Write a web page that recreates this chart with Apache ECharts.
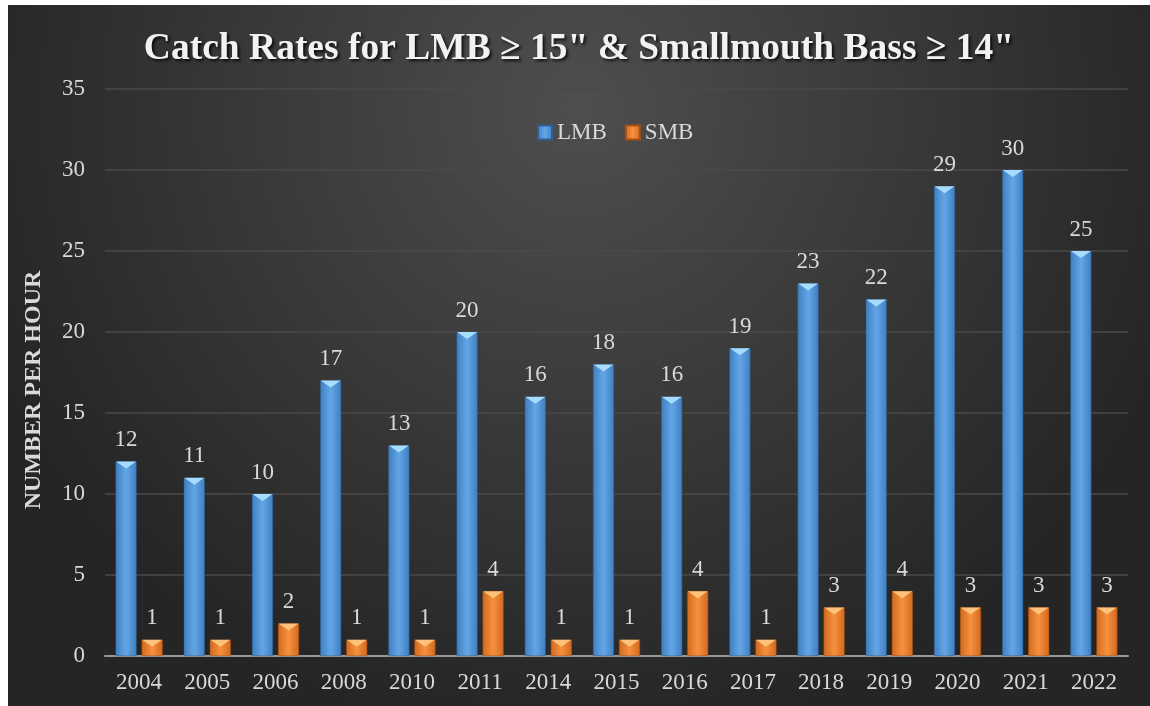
<!DOCTYPE html>
<html>
<head>
<meta charset="utf-8">
<script src="https://cdn.jsdelivr.net/npm/echarts@6/dist/echarts.min.js"></script>
<style>
  html, body { margin: 0; padding: 0; background: #fff; }
  #main { position: absolute; left: 8px; top: 5px; width: 1142px; height: 701px; }
</style>
</head>
<body>
<div id="main"></div>
<script>
var years = ['2004','2005','2006','2008','2010','2011','2014','2015','2016','2017','2018','2019','2020','2021','2022'];
var lmb = [12, 11, 10, 17, 13, 20, 16, 18, 16, 19, 23, 22, 29, 30, 25];
var smb = [1, 1, 2, 1, 1, 4, 1, 1, 4, 1, 3, 4, 3, 3, 3];
var yTicks = [0, 5, 10, 15, 20, 25, 30, 35];

var serif = '"Liberation Serif", "DejaVu Serif", serif';
var txtColor = '#d9d9d9';
var fs = 23;

function barFill(edge, mid) {
  return new echarts.graphic.LinearGradient(0, 0, 1, 0, [
    {offset: 0, color: edge},
    {offset: 0.5, color: mid},
    {offset: 1, color: edge}
  ]);
}
var blueFill = barFill('#3f7fc1', '#63a6e6');
var orangeFill = barFill('#d2691f', '#f6913d');

// bevel cap on the bar tops
var capPath = 'path://M0,0 L20,0 L10,7 Z';

var myChart = echarts.init(document.getElementById('main'));
var option = {
  backgroundColor: new echarts.graphic.RadialGradient(0.5, 0.15, 0.9, [
    {offset: 0, color: '#4e4e4e'},
    {offset: 1, color: '#252525'}
  ]),
  animation: false,
  title: {
    text: 'Catch Rates for LMB \u2265 15" & Smallmouth Bass \u2265 14"',
    left: 'center',
    top: 20,
    textStyle: {
      color: '#f2f2f2',
      fontFamily: serif,
      fontWeight: 'bold',
      fontSize: 37.5,
      textShadowColor: 'rgba(0,0,0,0.8)',
      textShadowBlur: 3,
      textShadowOffsetX: 2,
      textShadowOffsetY: 2
    }
  },
  legend: {
    data: ['LMB', 'SMB'],
    left: 524,
    top: 111,
    itemWidth: 14,
    itemHeight: 14,
    itemGap: 18,
    textStyle: {color: txtColor, fontFamily: serif, fontSize: fs},
    icon: 'rect'
  },
  grid: {left: 97, right: 22, top: 84, bottom: 50},
  xAxis: {
    type: 'category',
    data: years,
    axisTick: {show: false},
    axisLine: {lineStyle: {color: '#999999', width: 2}},
    axisLabel: {color: txtColor, fontFamily: serif, fontSize: fs, margin: 15}
  },
  yAxis: {
    type: 'value',
    min: yTicks[0],
    max: yTicks[yTicks.length - 1],
    interval: 5,
    name: 'NUMBER PER HOUR',
    nameLocation: 'middle',
    nameGap: 59,
    nameTextStyle: {color: txtColor, fontFamily: serif, fontWeight: 'bold', fontSize: 24, padding: [0, 35, 0, 0]},
    axisLabel: {color: txtColor, fontFamily: serif, fontSize: fs, margin: 20},
    splitLine: {lineStyle: {color: '#4a4a4a', width: 1.5}}
  },
  series: [
    {
      name: 'LMB',
      type: 'bar',
      data: lmb,
      barWidth: 21,
      barGap: '24%',
      itemStyle: {color: blueFill, borderColor: '#2f5f93', borderWidth: 0.5},
      label: {show: true, position: 'top', distance: 10, color: txtColor, fontFamily: serif, fontSize: fs}
    },
    {
      name: 'SMB',
      type: 'bar',
      data: smb,
      barWidth: 21,
      itemStyle: {color: orangeFill, borderColor: '#a84f12', borderWidth: 0.5},
      label: {show: true, position: 'top', distance: 10, color: txtColor, fontFamily: serif, fontSize: fs}
    },
    {
      type: 'pictorialBar',
      data: lmb,
      symbol: capPath,
      symbolSize: [20, 7],
      symbolPosition: 'end',
      symbolOffset: [-13, 0],
      itemStyle: {color: '#a8dcff'},
      z: 5,
      silent: true
    },
    {
      type: 'pictorialBar',
      data: smb,
      symbol: capPath,
      symbolSize: [20, 7],
      symbolPosition: 'end',
      symbolOffset: [13, 0],
      itemStyle: {color: '#ffc27a'},
      z: 5,
      silent: true
    }
  ]
};
myChart.setOption(option);
</script>
</body>
</html>
